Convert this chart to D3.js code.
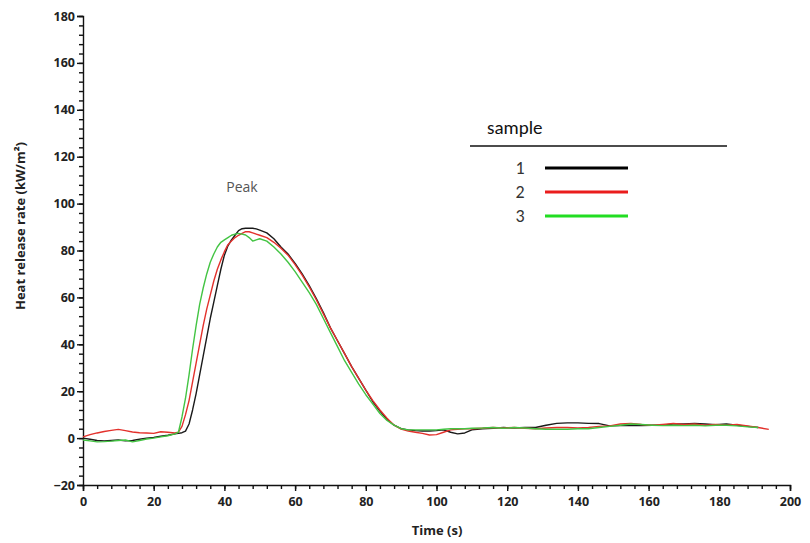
<!DOCTYPE html>
<html>
<head>
<meta charset="utf-8">
<script src="https://cdn.jsdelivr.net/npm/d3@7"></script>
<style>
  body { margin: 0; background: #fff; }
  svg { display: block; }
  .axis text { font-family: "Open Sans", sans-serif; font-weight: 700; font-size: 12.5px; fill: #222; }
  .axis path, .axis line { stroke: #111; stroke-width: 1.4px; }
</style>
</head>
<body>
<svg id="chart"></svg>
<script>
// time grid (s)
const times = [0,2,4,6,8,10,12,14,16,18,20,22,24,26,
  27,28,29,30,31,32,33,34,35,36,37,38,39,40,41,42,43,44,45,46,47,48,49,50,
  52,54,56,58,60,62,64,66,68,70,72,74,76,78,80,82,84,86,88,90,92,94,96,98,100,102,104,106,108,110,
  113,116,119,122,125,128,131,134,137,140,143,146,149,152,155,158,161,164,167,170,173,176,179,182,185,188,191,194];

// heat release rate (kW/m2) for each sample
const sample1 = [0,-0.5,-1,-1.2,-1,-0.8,-1.2,-1,-0.5,0,0.3,0.8,1.2,1.8,
  2,2.3,3,6,12,19,27,35,43,51,58,65,72,78,82,84.5,86.5,88.5,89.3,89.5,89.5,89.5,89.2,88.7,
  87.5,85,81.5,78.5,74.5,70,65,59.5,53.5,47,41.5,36,30.5,25.5,20.5,15.5,11.5,8,5.5,4,3.5,3.2,3,3,3.2,3.5,2.5,1.8,2.2,3.5,
  4,4.2,4.5,4.3,4.5,4.5,5.5,6.3,6.5,6.5,6.3,6.2,5.2,5.3,5.5,5.3,5.5,5.5,6,6,6.2,6,5.7,6,5.5,5,4.5,null];
const sample2 = [0.5,1.5,2.2,2.8,3.3,3.7,3.2,2.6,2.3,2.2,2,2.7,2.5,2.2,
  2.5,5,10,16,24,32,40,48,55,61,67,72,76,79.5,82.5,84,85.5,86.5,87.3,88,88,87.5,87,86.5,
  85.5,83.5,81,78,74,69.5,64.5,59,53,47,41.5,36,30.5,25.5,20.5,16,12,8.5,5.5,3.8,3,2.5,2,1.3,1.5,2.5,3.5,3.8,4,4,
  4.2,4.5,4.3,4.5,4.2,4,4.3,4.5,4.5,4.3,4.5,5,5.2,6,6.3,5.8,5.5,5.8,6.2,5.8,6,5.5,5.8,5.5,5.8,5.2,4.5,3.7];
const sample3 = [-0.8,-1.2,-1.6,-1.5,-1.3,-1,-0.8,-1.6,-1,-0.4,0,0.5,1,1.8,
  2.5,9,17,27,38,48,57,64,70,75,78.5,81.5,83.5,84.5,85.5,86.5,87,87.3,87,86.6,85.5,84,84.5,85,
  84,81.5,78.5,75,71,66.5,62,57,51,45,39,33,28,23,18.5,14.5,10.5,7.5,5.5,4,3.5,3.5,3.5,3.5,3.5,3.8,4,4,4,4.2,
  4.3,4.5,4.2,4.5,4.3,4,3.8,3.8,3.8,4,4,4.5,5,5.5,6,5.8,5.5,5.3,5.5,5.3,5.5,5.2,5.5,5.5,5.2,4.8,4.5,null];

const seriesNames = ["1", "2", "3"];
const seriesValues = [sample1, sample2, sample3];
const lineColors = ["#1a1a1a", "#e3312c", "#43c443"];
const legendColors = ["#000000", "#ea1c1c", "#22dd22"];

const xTicks = [0,20,40,60,80,100,120,140,160,180,200];
const yTicks = [-20,0,20,40,60,80,100,120,140,160,180];

const width = 810, height = 543;
const margin = {top: 16, right: 20, bottom: 58, left: 83};
const innerW = 790 - margin.left;
const innerH = 485 - margin.top;

const svg = d3.select("#chart").attr("width", width).attr("height", height);
const g = svg.append("g").attr("transform", "translate(" + margin.left + "," + margin.top + ")");

const x = d3.scaleLinear().domain([0, 200]).range([0, innerW]);
const y = d3.scaleLinear().domain([-20, 180]).range([innerH, 0]);

// minor ticks every 4 units
g.append("g")
    .attr("class", "axis")
    .attr("transform", "translate(0," + innerH + ")")
    .call(d3.axisBottom(x).tickValues(d3.range(0, 201, 4)).tickSize(4).tickFormat(""))
    .select(".domain").remove();
g.append("g")
    .attr("class", "axis")
    .call(d3.axisLeft(y).tickValues(d3.range(-20, 181, 4)).tickSize(4).tickFormat(""))
    .select(".domain").remove();

g.append("g")
    .attr("class", "axis")
    .attr("transform", "translate(0," + innerH + ")")
    .call(d3.axisBottom(x).tickValues(xTicks).tickSizeOuter(0).tickSize(6).tickPadding(6));

g.append("g")
    .attr("class", "axis")
    .call(d3.axisLeft(y).tickValues(yTicks).tickSizeOuter(0).tickSize(6).tickPadding(2));

// axis titles
svg.append("text")
    .attr("x", 437).attr("y", 535)
    .attr("text-anchor", "middle")
    .style("font-family", "'Open Sans', sans-serif")
    .style("font-weight", 700).style("font-size", "13px").style("fill", "#222")
    .text("Time (s)");

svg.append("text")
    .attr("transform", "translate(25,226) rotate(-90)")
    .attr("text-anchor", "middle")
    .style("font-family", "'Open Sans', sans-serif")
    .style("font-weight", 700).style("font-size", "13px").style("fill", "#222")
    .text("Heat release rate (kW/m²)");

// curves
const line = d3.line()
    .defined(d => d[1] !== null)
    .x(d => x(d[0]))
    .y(d => y(d[1]));

seriesValues.forEach((vals, i) => {
    g.append("path")
        .datum(times.map((t, j) => [t, vals[j]]))
        .attr("fill", "none")
        .attr("stroke", lineColors[i])
        .attr("stroke-width", 1.4)
        .attr("stroke-linejoin", "round")
        .attr("d", line);
});

// annotation
svg.append("text")
    .attr("x", 242).attr("y", 192)
    .attr("text-anchor", "middle")
    .style("font-family", "'Open Sans', sans-serif")
    .style("font-size", "14px").style("fill", "#555")
    .text("Peak");

// legend
const legend = svg.append("g");
legend.append("text")
    .attr("x", 487).attr("y", 134)
    .style("font-family", "Carlito, 'Liberation Sans', sans-serif")
    .style("font-size", "19px").style("fill", "#111")
    .text("sample");
legend.append("line")
    .attr("x1", 470).attr("x2", 727).attr("y1", 146).attr("y2", 146)
    .attr("stroke", "#111").attr("stroke-width", 1.5);

const legendY = d3.scalePoint().domain(seriesNames).range([168, 216]);
seriesNames.forEach((name, i) => {
    legend.append("text")
        .attr("x", 520).attr("y", legendY(name) + 6)
        .attr("text-anchor", "middle")
        .style("font-family", "Carlito, 'Liberation Sans', sans-serif")
        .style("font-size", "18px").style("fill", "#333")
        .text(name);
    legend.append("line")
        .attr("x1", 545).attr("x2", 628)
        .attr("y1", legendY(name)).attr("y2", legendY(name))
        .attr("stroke", legendColors[i]).attr("stroke-width", 3);
});
</script>
</body>
</html>
